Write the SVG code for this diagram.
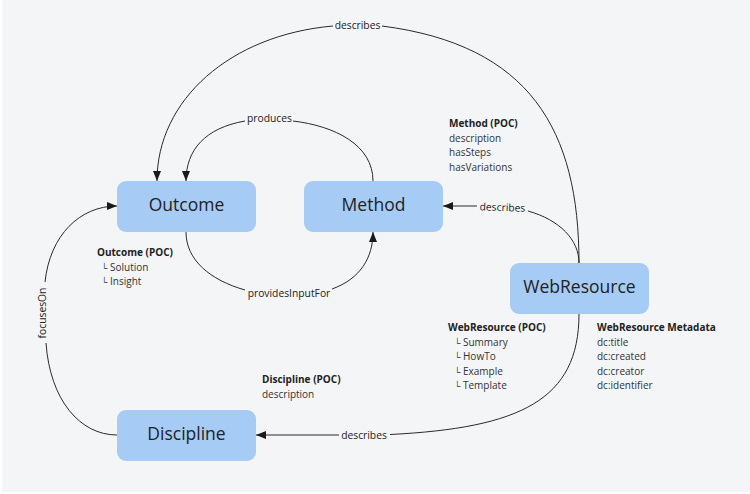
<svg xmlns="http://www.w3.org/2000/svg" width="750" height="494" viewBox="0 0 750 494">
  <defs>
    <marker id="arrow" viewBox="0 0 10 8" refX="10" refY="4" markerWidth="10" markerHeight="8" markerUnits="userSpaceOnUse" orient="auto">
      <path d="M0,0 L10,4 L0,8 Z" fill="#1a1a1a"/>
    </marker>
    <style>
      .node rect { fill: #a6cbf5; }
      .title { font-family: "Open Sans", "Noto Sans", sans-serif; font-size: 17.5px; fill: #222; text-anchor: middle; }
      .info { font-family: "Open Sans", "Noto Sans", sans-serif; font-size: 10px; fill: #333; }
      .info .h { font-weight: bold; fill: #222; }
      .edge { fill: none; stroke: #2a2a2a; stroke-width: 1; }
      .lbl { font-family: "Open Sans", "Noto Sans", sans-serif; font-size: 10.3px; fill: #222; text-anchor: middle; dominant-baseline: central; }
      .tick { font-size: 9px; }
    </style>
  </defs>
  <rect x="0" y="0" width="750" height="494" fill="#ffffff"/>
  <rect x="2" y="0" width="748" height="492" fill="#f4f5f7"/>

  <g id="connectors">
    <!-- WebResource describes Outcome -->
    <path class="edge" d="M579,263 C579,130 530,45 382,26"/>
    <path class="edge" d="M333,26 C230,35 157,100 157,181" marker-end="url(#arrow)"/>
    <text class="lbl" x="357.5" y="24.5">describes</text>
    <!-- Method produces Outcome -->
    <path class="edge" d="M373,181 C373,145 335,126 293,121"/>
    <path class="edge" d="M245,121 C205,128 186,150 186,181" marker-end="url(#arrow)"/>
    <text class="lbl" x="269.5" y="118">produces</text>
    <!-- Outcome providesInputFor Method -->
    <path class="edge" d="M186,232 C186,260 210,280 245,290"/>
    <path class="edge" d="M332,289 C360,279 373,258 373,232" marker-end="url(#arrow)"/>
    <text class="lbl" x="289" y="292.5">providesInputFor</text>
    <!-- WebResource describes Method -->
    <path class="edge" d="M579,263 C579,240 560,220 528,211"/>
    <path class="edge" d="M477,206 L443,206" marker-end="url(#arrow)"/>
    <text class="lbl" x="502.5" y="207" transform="rotate(2 502.5 207)">describes</text>
    <!-- WebResource describes Discipline -->
    <path class="edge" d="M579,314 C579,400 520,428 390,434.5"/>
    <path class="edge" d="M339,435 L256,435" marker-end="url(#arrow)"/>
    <text class="lbl" x="364" y="435">describes</text>
    <!-- Discipline focusesOn Outcome -->
    <path class="edge" d="M117,435 C80,435 50,400 46,343"/>
    <path class="edge" d="M45,282 C50,235 80,206 117,206" marker-end="url(#arrow)"/>
    <text class="lbl" x="42" y="313" transform="rotate(-90 42 313)">focusesOn</text>
  </g>

  <g id="node-outcome" class="node">
    <rect x="117" y="181" width="139" height="51" rx="9"/>
    <text class="title" x="186.5" y="211">Outcome</text>
    <text class="info" x="97" y="256"><tspan class="h">Outcome (POC)</tspan></text>
    <text class="info" x="101" y="270.5"><tspan class="tick">└</tspan> Solution</text>
    <text class="info" x="101" y="285"><tspan class="tick">└</tspan> Insight</text>
  </g>

  <g id="node-method" class="node">
    <rect x="304" y="181" width="139" height="51" rx="9"/>
    <text class="title" x="373.5" y="211">Method</text>
    <text class="info" x="449" y="127"><tspan class="h">Method (POC)</tspan></text>
    <text class="info" x="449" y="141.5">description</text>
    <text class="info" x="449" y="156">hasSteps</text>
    <text class="info" x="449" y="170.5">hasVariations</text>
  </g>

  <g id="node-webresource" class="node">
    <rect x="510" y="263" width="139" height="51" rx="9"/>
    <text class="title" x="579.5" y="293">WebResource</text>
    <text class="info" x="448" y="331"><tspan class="h">WebResource (POC)</tspan></text>
    <text class="info" x="454" y="345.5"><tspan class="tick">└</tspan> Summary</text>
    <text class="info" x="454" y="360"><tspan class="tick">└</tspan> HowTo</text>
    <text class="info" x="454" y="374.5"><tspan class="tick">└</tspan> Example</text>
    <text class="info" x="454" y="389"><tspan class="tick">└</tspan> Template</text>
    <text class="info" x="597" y="331"><tspan class="h">WebResource Metadata</tspan></text>
    <text class="info" x="597" y="345.5">dc:title</text>
    <text class="info" x="597" y="360">dc:created</text>
    <text class="info" x="597" y="374.5">dc:creator</text>
    <text class="info" x="597" y="389">dc:identifier</text>
  </g>

  <g id="node-discipline" class="node">
    <rect x="117" y="410" width="139" height="51" rx="9"/>
    <text class="title" x="186.5" y="440">Discipline</text>
    <text class="info" x="262" y="383"><tspan class="h">Discipline (POC)</tspan></text>
    <text class="info" x="262" y="397.5">description</text>
  </g>
</svg>
